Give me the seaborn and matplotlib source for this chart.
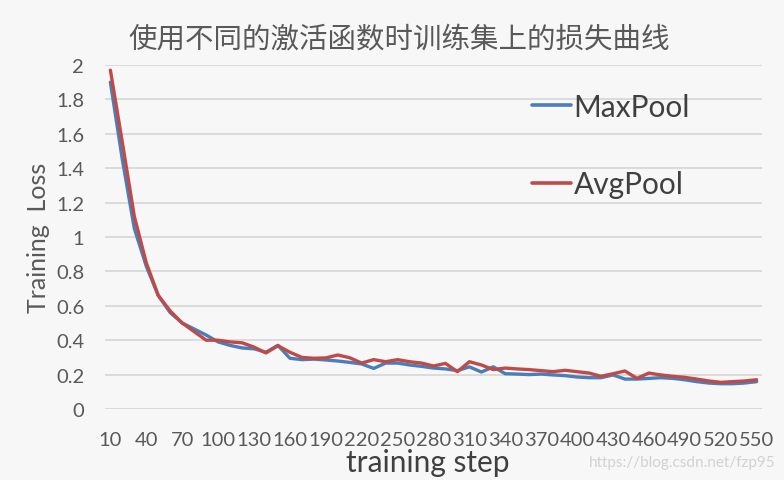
import numpy as np
import pandas as pd
import matplotlib
matplotlib.use("Agg")
import matplotlib.pyplot as plt
import seaborn as sns

steps = list(range(10, 551, 10))

maxpool = [1.90, 1.45, 1.05, 0.83, 0.66, 0.56, 0.50, 0.465, 0.43, 0.39,
           0.37, 0.355, 0.35, 0.33, 0.37, 0.295, 0.287, 0.29, 0.285, 0.279,
           0.271, 0.262, 0.236, 0.267, 0.267, 0.256, 0.248, 0.238, 0.233, 0.223,
           0.245, 0.215, 0.245, 0.205, 0.203, 0.200, 0.203, 0.198, 0.194, 0.186,
           0.182, 0.182, 0.198, 0.174, 0.174, 0.178, 0.182, 0.178, 0.170, 0.159,
           0.151, 0.147, 0.147, 0.151, 0.159]

avgpool = [1.97, 1.55, 1.12, 0.85, 0.66, 0.57, 0.50, 0.45, 0.40, 0.40,
           0.39, 0.385, 0.36, 0.326, 0.368, 0.33, 0.30, 0.295, 0.297, 0.314,
           0.298, 0.267, 0.287, 0.275, 0.287, 0.275, 0.267, 0.25, 0.265, 0.217,
           0.275, 0.256, 0.229, 0.238, 0.233, 0.229, 0.223, 0.217, 0.225, 0.217,
           0.209, 0.19, 0.205, 0.221, 0.178, 0.209, 0.198, 0.19, 0.184, 0.174,
           0.163, 0.155, 0.159, 0.163, 0.17]

series_names = ["MaxPool", "AvgPool"]
x_ticks = list(range(10, 551, 30))
y_ticks = [0, 0.2, 0.4, 0.6, 0.8, 1, 1.2, 1.4, 1.6, 1.8, 2]
y_tick_labels = ["0", "0.2", "0.4", "0.6", "0.8", "1", "1.2", "1.4", "1.6", "1.8", "2"]
title = "使用不同的激活函数时训练集上的损失曲线"

df = pd.DataFrame({
    "step": steps * 2,
    "loss": maxpool + avgpool,
    "pool": [series_names[0]] * len(steps) + [series_names[1]] * len(steps),
})

sns.set_theme(style="white")
plt.rcParams["font.family"] = ["Lato", "Noto Sans CJK SC", "DejaVu Sans"]

bg = "#f7f7f7"
fig = plt.figure(figsize=(7.84, 4.81), dpi=100, facecolor=bg)
ax = fig.add_axes([105 / 784, 1 - 410 / 481, (762 - 105) / 784, (410 - 66) / 481])
ax.set_facecolor(bg)

sns.lineplot(data=df, x="step", y="loss", hue="pool",
             palette={"MaxPool": "#4a7ebb", "AvgPool": "#be4b48"},
             linewidth=2.4, ax=ax, legend=True)

ax.set_xlim(5.5, 554.5)
ax.set_ylim(0, 2)
ax.set_xticks(x_ticks)
ax.set_xticklabels([str(t) for t in x_ticks], fontsize=14.5, color="#595959")
ax.set_yticks(y_ticks)
ax.set_yticklabels(y_tick_labels, fontsize=14.5, color="#595959")
ax.tick_params(axis="both", length=0)
ax.tick_params(axis="x", pad=16)
ax.tick_params(axis="y", pad=15)
ax.grid(axis="y", color="#d9d9d9", linewidth=1.3)
ax.grid(axis="x", visible=False)
for s in ax.spines.values():
    s.set_visible(False)

ax.set_xlabel("training step", fontsize=21.5, color="#404040", labelpad=-1)
ax.xaxis.set_label_coords((428 - 105) / 657, -(463 - 410) / 344)
ax.xaxis.label.set_va("center")
ax.set_ylabel("Training  Loss", fontsize=18, color="#595959", labelpad=4)

fig.text(399 / 784, 1 - 40 / 481, title, ha="center", va="center",
         fontsize=20.5, color="#595959",
         family=["Noto Sans CJK SC", "DejaVu Sans"])

leg = ax.legend(loc="upper left", bbox_to_anchor=((505 - 105) / 657, (410 - 67) / 344),
                frameon=False, fontsize=21.5, handlelength=1.3, handletextpad=0.1,
                labelspacing=1.65, labelcolor="#404040")
for line in leg.get_lines():
    line.set_linewidth(2.6)

fig.text(775 / 784, 1 - 463 / 481, "https://blog.csdn.net/fzp95", ha="right",
         va="center", fontsize=11, color="#d2d2d2")

fig.savefig("out.png", dpi=100, facecolor=bg)
